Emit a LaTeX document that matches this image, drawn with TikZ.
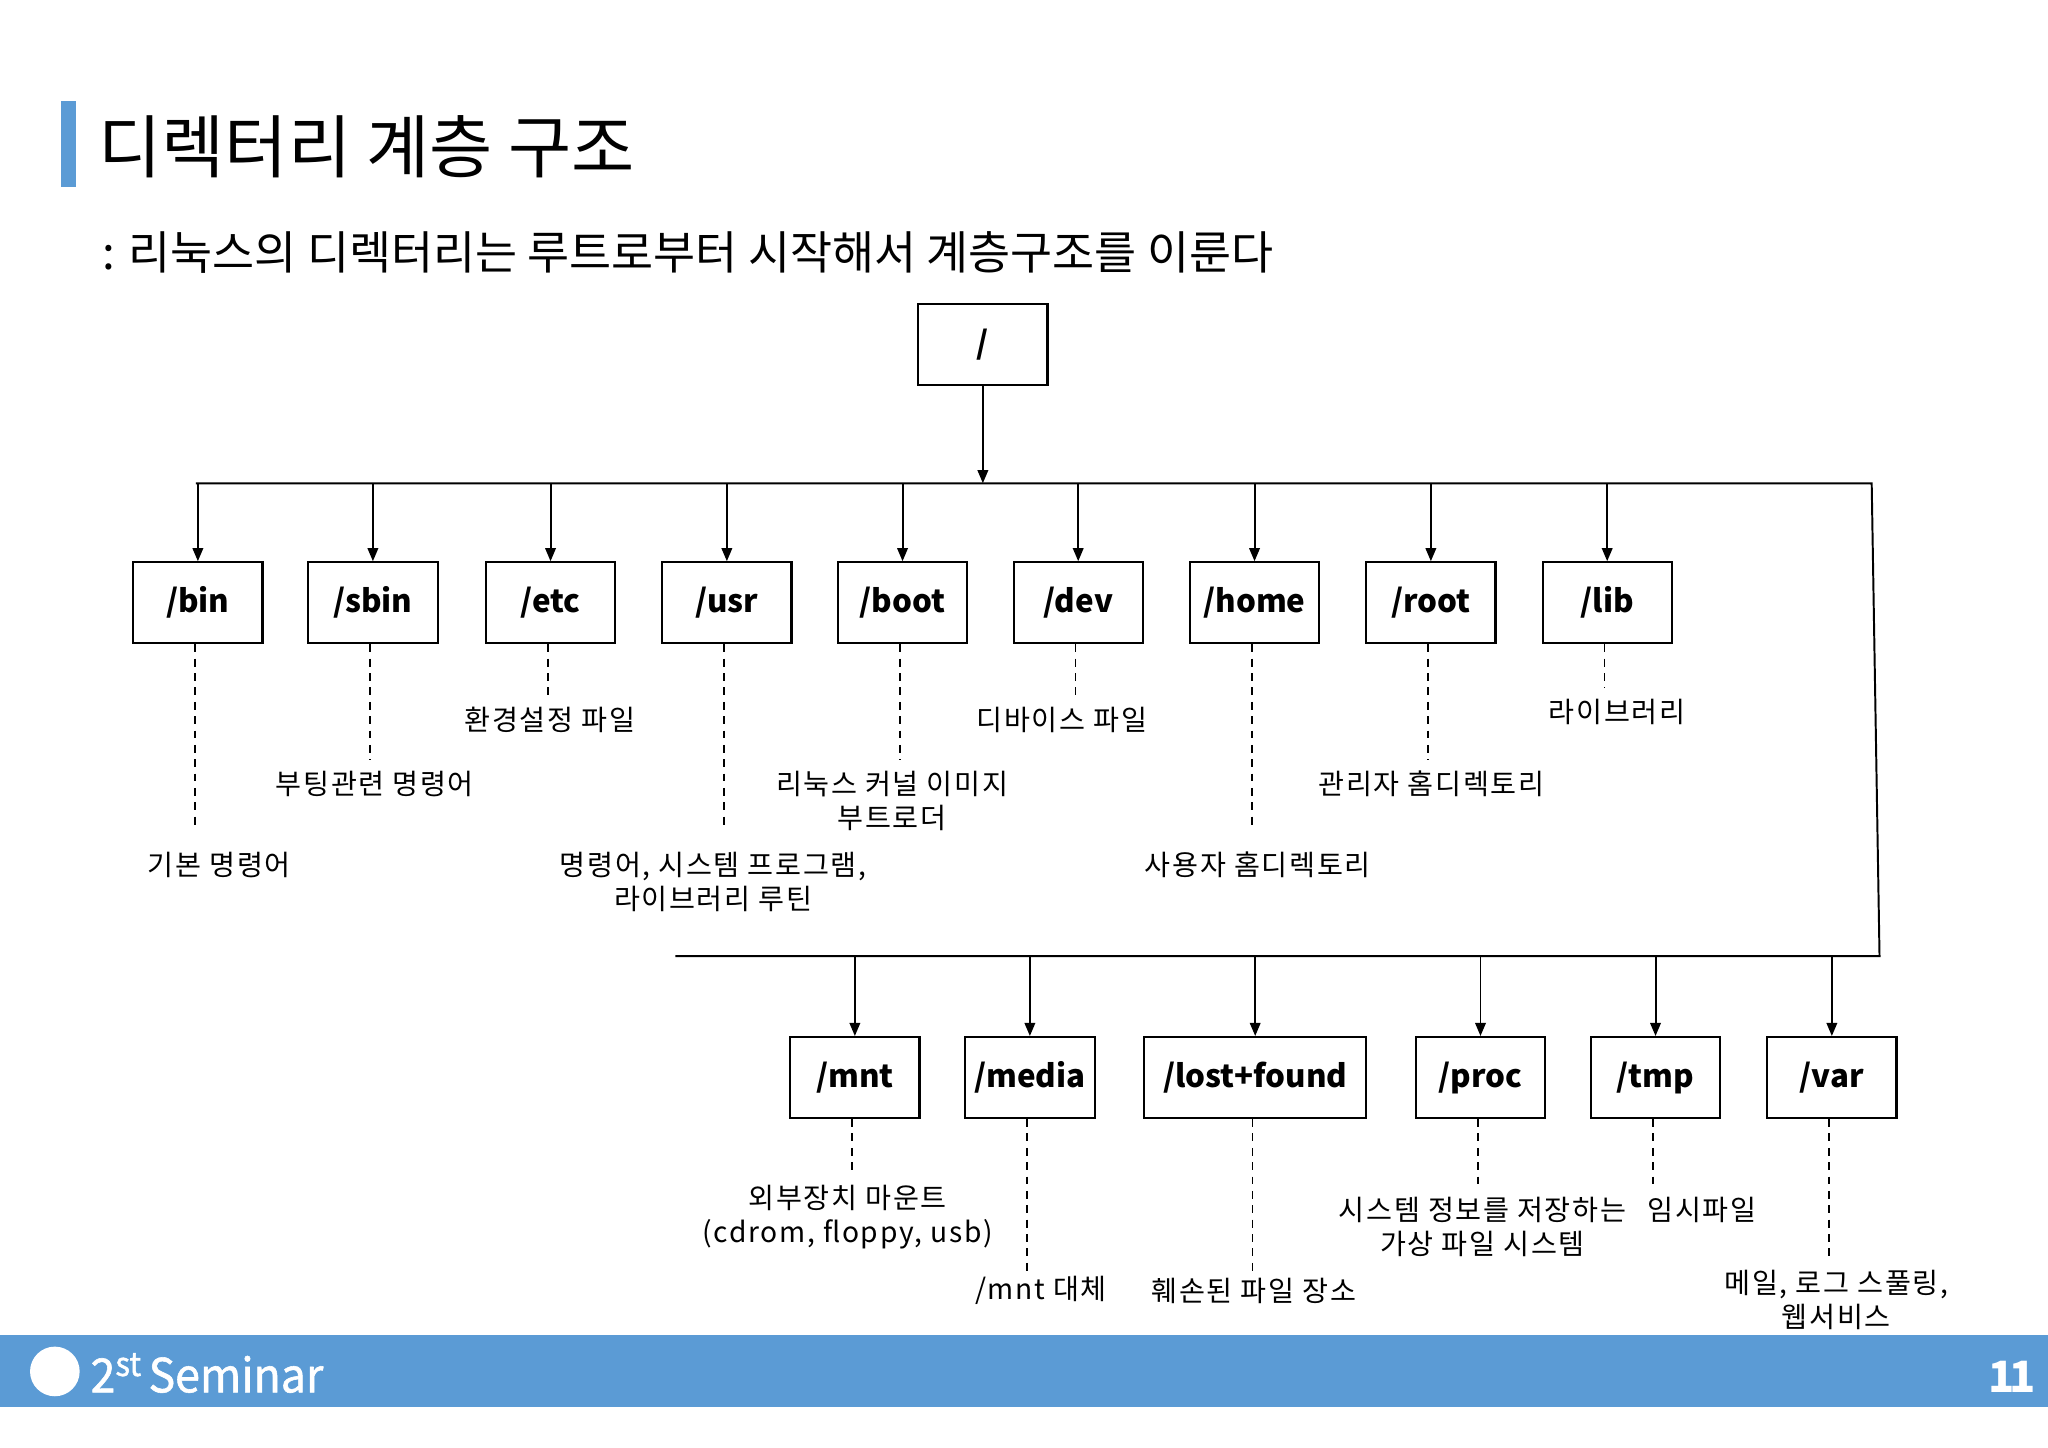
\documentclass[tikz,border=0pt]{standalone}
\usepackage{fontspec}
\setmainfont{Noto Sans CJK KR}
\newfontfamily\titlefont{Noto Sans CJK KR}
\newfontfamily\notefont[LetterSpace=6]{Noto Sans CJK KR}
\newfontfamily\footerfont[FakeStretch=0.95,FakeBold=1.2]{Noto Sans CJK KR}
\usetikzlibrary{
	arrows.meta,
	positioning,
}
\definecolor{SlideBlue}{HTML}{5B9BD5}
\tikzset{
	dirbox/.style={draw,line width=0.8pt,minimum width=49.5pt,minimum height=31pt,inner sep=0pt,font=\bfseries\fontsize{12}{14}\selectfont},
	note/.style={align=center,inner sep=1pt,font=\notefont\fontsize{10.8}{13}\selectfont},
	arr/.style={-{Triangle[length=5pt,width=4pt]},line width=0.75pt},
	noteline/.style={dash pattern=on 3pt off 2.5pt,line width=0.65pt,shorten >=3pt},
}

\begin{document}
\begin{tikzpicture}[x=0.5pt,y=-0.5pt]
	\useasboundingbox (0,0) rectangle (1568,1108.6);

	% title
	\fill[SlideBlue] (47,77) rectangle (58,143);
	\node[anchor=base west,inner sep=0pt,font=\titlefont\fontsize{26.3}{30}\selectfont] (title) at (75,132) {디렉터리 계층 구조};
	\node[anchor=base west,inner sep=0pt,font=\fontsize{17.5}{20}\selectfont] (subtitle) at (78,206) {: 리눅스의 디렉터리는 루트로부터 시작해서 계층구조를 이룬다};

	% root and bus lines
	\node at (752.5,264) [dirbox] (root) {/};
	\coordinate (bustl) at (150,370);
	\coordinate (bustr) at (1433,370);
	\coordinate (busbr) at (1439,732);
	\coordinate (busbl) at (517,732);
	\draw[line width=0.75pt] (bustl) -- (bustr) -- (busbr) -- (busbl);
	\draw[arr] (root.south) -- (root.south |- bustl);

	% first row
	\node at (151.5,461.5) [dirbox] (bin) {/bin};
	\node at (285.5,461.5) [dirbox] (sbin) {/sbin};
	\node at (421.5,461.5) [dirbox] (etc) {/etc};
	\node at (556.5,461.5) [dirbox] (usr) {/usr};
	\node at (691,461.5) [dirbox] (boot) {/boot};
	\node at (825.5,461.5) [dirbox] (dev) {/dev};
	\node at (960.5,461.5) [dirbox] (home) {/home};
	\node at (1095.5,461.5) [dirbox] (rootdir) {/root};
	\node at (1230.5,461.5) [dirbox] (lib) {/lib};
	\foreach \d in {bin,sbin,etc,usr,boot,dev,home,rootdir,lib}
		\draw[arr] (\d.north |- bustl) -- (\d.north);

	% second row
	\node at (654.5,825) [dirbox] (mnt) {/mnt};
	\node at (788.5,825) [dirbox] (media) {/media};
	\node at (961,825) [dirbox,minimum width=85pt] (lost) {/lost+found};
	\node at (1133.5,825) [dirbox] (proc) {/proc};
	\node at (1267.5,825) [dirbox] (tmp) {/tmp};
	\node at (1402.5,825) [dirbox] (var) {/var};
	\foreach \d in {mnt,media,lost,proc,tmp,var}
		\draw[arr] (\d.north |- busbl) -- (\d.north);

	% notes
	\node at (168,662) [note] (binnote) {기본 명령어};
	\node at (287,600) [note] (sbinnote) {부팅관련 명령어};
	\node at (421,551) [note] (etcnote) {환경설정 파일};
	\node at (546,675) [note] (usrnote) {명령어, 시스템 프로그램,\\ 라이브러리 루틴};
	\node at (683,613) [note] (bootnote) {리눅스 커널 이미지\\ 부트로더};
	\node at (813,551) [note] (devnote) {디바이스 파일};
	\node at (963,662) [note] (homenote) {사용자 홈디렉토리};
	\node at (1096,600) [note] (rootdirnote) {관리자 홈디렉토리};
	\node at (1238,545) [note] (libnote) {라이브러리};
	\node at (649,932) [note] (mntnote) {외부장치 마운트\\ (cdrom, floppy, usb)};
	\node at (797,988) [note] (medianote) {/mnt 대체};
	\node at (960,988) [note] (lostnote) {훼손된 파일 장소};
	\node at (1135,939) [note] (procnote) {시스템 정보를 저장하는\\ 가상 파일 시스템};
	\node at (1303,926) [note] (tmpnote) {임시파일};
	\node at (1406,995) [note] (varnote) {메일, 로그 스풀링,\\ 웹서비스};

	\foreach \d in {sbin,etc,boot,dev,rootdir,lib,mnt,proc,tmp,var}
		\draw[noteline] ([xshift=-1pt]\d.south) -- ([xshift=-1pt]\d.south |- \d note.north);
	\foreach \d in {bin,usr,home}
		\draw[noteline,shorten >=7pt] ([xshift=-1pt]\d.south) -- ([xshift=-1pt]\d.south |- \d note.north);
	\draw[noteline,shorten >=0pt] ([xshift=-1pt]media.south) -- ([xshift=-1pt]media.south |- medianote.north);
	\draw[noteline,shorten >=0pt] ([xshift=-1pt]lost.south) -- ([xshift=-1pt]lost.south |- lostnote.north);

	% footer
	\fill[SlideBlue] (0,1022) rectangle (1568,1077);
	\fill[white] (42,1050) circle (9.5pt);
	\node[anchor=base west,inner sep=0pt,text=white,font=\footerfont\fontsize{18}{20}\selectfont] (seminar) at (69,1066) {2\textsuperscript{st}\hspace{-1.5pt} Seminar};
	\node[anchor=base east,inner sep=0pt,text=white,font=\bfseries\fontsize{16.5}{20}\selectfont] (pageno) at (1559,1066) {1\kern-2pt1};
\end{tikzpicture}
\end{document}
